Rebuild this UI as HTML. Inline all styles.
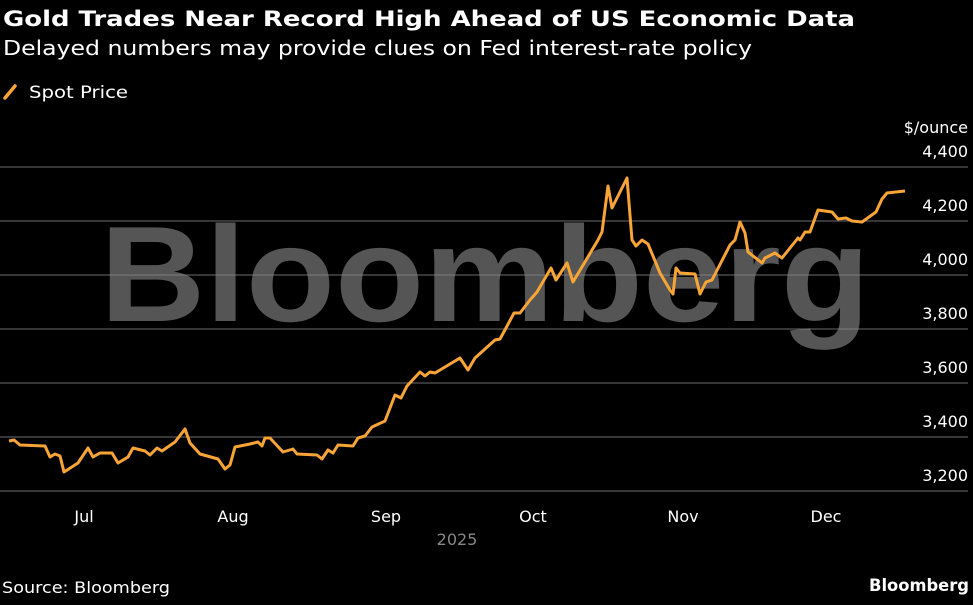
<!DOCTYPE html>
<html><head><meta charset="utf-8"><style>
body{margin:0;background:#000;width:973px;height:600px;overflow:hidden}
</style></head><body>
<svg width="973" height="600" xmlns="http://www.w3.org/2000/svg" font-family="DejaVu Sans, Liberation Sans, sans-serif">
<rect width="973" height="600" fill="#000"/>
<text x="3" y="26" font-size="21" font-weight="bold" fill="#fff" textLength="852" lengthAdjust="spacingAndGlyphs">Gold Trades Near Record High Ahead of US Economic Data</text>
<text x="3" y="55" font-size="20" fill="#fff" textLength="749" lengthAdjust="spacingAndGlyphs">Delayed numbers may provide clues on Fed interest-rate policy</text>
<line x1="5" y1="98" x2="15" y2="86" stroke="#f8a436" stroke-width="3.5" stroke-linecap="round"/>
<text x="29" y="98" font-size="17" fill="#fff" textLength="99" lengthAdjust="spacingAndGlyphs">Spot Price</text>
<text x="485" y="321" font-size="136" font-weight="bold" fill="#555" text-anchor="middle" font-family="Liberation Sans, sans-serif" textLength="770" lengthAdjust="spacingAndGlyphs">Bloomberg</text>
<g stroke="#888" stroke-width="1" opacity="0.8">
<line x1="0" y1="167" x2="968" y2="167"/><line x1="0" y1="221" x2="968" y2="221"/><line x1="0" y1="275" x2="968" y2="275"/><line x1="0" y1="329" x2="968" y2="329"/><line x1="0" y1="383" x2="968" y2="383"/><line x1="0" y1="437" x2="968" y2="437"/><line x1="0" y1="491" x2="968" y2="491"/>
</g>
<g font-size="16" fill="#fff" text-anchor="end">
<text x="968" y="133">$/ounce</text>
<text x="968" y="157">4,400</text><text x="968" y="211">4,200</text><text x="968" y="265">4,000</text><text x="968" y="319">3,800</text><text x="968" y="373">3,600</text><text x="968" y="427">3,400</text><text x="968" y="481">3,200</text>
</g>
<g font-size="16" fill="#fff" text-anchor="middle">
<text x="84" y="522">Jul</text><text x="233" y="522">Aug</text><text x="386" y="522">Sep</text><text x="533" y="522">Oct</text><text x="683" y="522">Nov</text><text x="826" y="522">Dec</text>
</g>
<text x="457" y="545" font-size="16" fill="#888" text-anchor="middle">2025</text>
<text x="2" y="593" font-size="16" fill="#fff" textLength="168" lengthAdjust="spacingAndGlyphs">Source: Bloomberg</text>
<text x="969" y="591" font-size="17" font-weight="bold" fill="#fff" text-anchor="end" textLength="100" lengthAdjust="spacingAndGlyphs">Bloomberg</text>
<polyline fill="none" stroke="#f8a436" stroke-width="3" stroke-linejoin="round" points="9,441 14,440 20,445 45,446 50,457 55,454 60,456 64,472 78,463 88,448 93,457 100,453 112,453 118,463 128,457 133,448 145,451 150,455 157,448 162,451 175,442 185,429 190,443 200,454 218,459 225,469 230,465 235,447 250,444 258,442 262,446 265,438 270,438 283,452 293,449 297,454 317,455 322,459 328,450 333,453 338,445 353,446 358,438 365,436 372,427 385,421 395,395 401,398 407,386 420,372 425,376 430,372 435,373 460,358 468,370 475,358 495,340 500,339 506,328 514,313 520,313 530,300 537,292 551,268 556,280 567,263 573,282 598,240 602,232 608,186 612,208 627,178 632,240 636,246 642,240 648,244 660,273 670,290 673,294 676,268 680,273 695,274 700,294 706,282 712,280 730,245 735,240 740,222 745,233 748,252 762,263 765,258 775,253 782,258 798,238 800,240 805,232 810,232 818,210 832,212 838,219 846,218 852,221 862,222 869,217 876,212 882,199 887,193 905,191"/>
</svg>
</body></html>
